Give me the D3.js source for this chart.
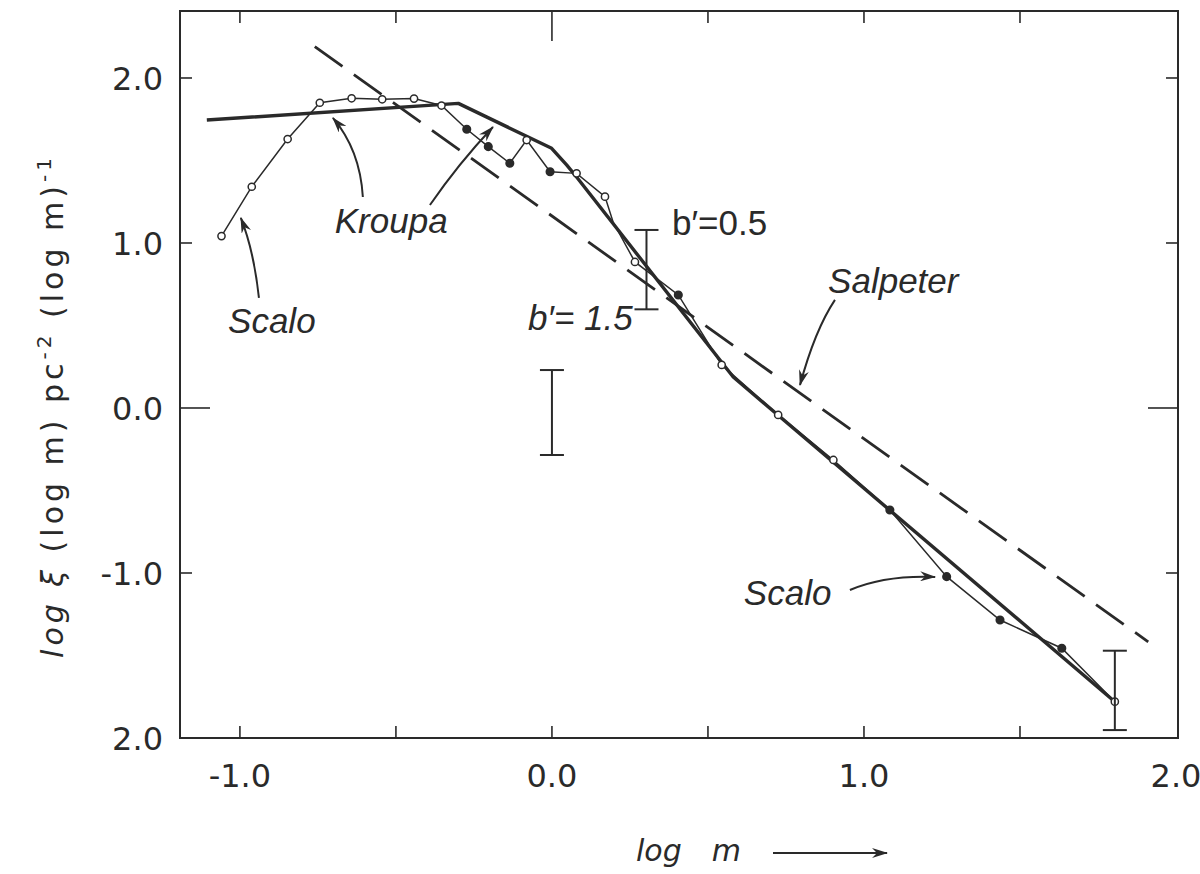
<!DOCTYPE html>
<html>
<head>
<meta charset="utf-8">
<script src="https://cdn.jsdelivr.net/npm/d3@7"></script>
<style>
  html, body { margin: 0; padding: 0; background: #ffffff; }
  svg { display: block; }
  .tick-label { font-family: "DejaVu Sans", sans-serif; font-size: 32px; fill: #2a2a2a; }
  .note { font-family: "Liberation Sans", "DejaVu Sans", sans-serif; font-style: italic; font-size: 35px; fill: #2a2a2a; }
  .note-up { font-family: "Liberation Sans", "DejaVu Sans", sans-serif; font-size: 35px; fill: #2a2a2a; }
  .axis-title { font-family: "DejaVu Sans", sans-serif; font-size: 30px; fill: #2a2a2a; }
</style>
</head>
<body>
<svg id="chart" width="1200" height="874"></svg>
<script>
// ---- Data: log of the mass function vs log m ----

// Kroupa broken power law (thick solid line)
const kroupaLogM  = [-1.106, -0.30, -0.001, 0.047, 0.079, 0.581, 1.804];
const kroupaLogXi = [ 1.745,  1.846, 1.574, 1.473, 1.400, 0.188, -1.780];

// Scalo estimate (thin line with open / filled points)
const scaloLogM  = [-1.059, -0.962, -0.847, -0.744, -0.642, -0.544, -0.442, -0.354,
                    -0.273, -0.204, -0.135, -0.081, -0.006, 0.079, 0.170, 0.196,
                     0.266, 0.405, 0.544, 0.725, 0.902, 1.083, 1.265, 1.436, 1.634, 1.804];
const scaloLogXi = [ 1.042, 1.341, 1.630, 1.850, 1.877, 1.871, 1.875, 1.833,
                     1.689, 1.584, 1.483, 1.624, 1.432, 1.422, 1.281, 1.127,
                     0.885, 0.685, 0.261, -0.042, -0.315, -0.618, -1.022, -1.285, -1.456, -1.780];
const scaloPoint = ["open", "open", "open", "open", "open", "open", "open", "open",
                    "filled", "filled", "filled", "open", "filled", "open", "open", "none",
                    "open", "filled", "open", "open", "open", "filled", "filled", "filled", "filled", "open"];

// Salpeter power law (dashed line), slope -1.35
const salpeterLogM  = [-0.76, 1.911];
const salpeterLogXi = [ 2.19, -1.417];

// Representative error bars
const errLogM = [0.0, 0.303, 1.804];
const errHigh = [0.23, 1.079, -1.471];
const errLow  = [-0.285, 0.598, -1.952];

// Axis ticks and their printed labels
const xMinorTicks = [-1.0, -0.5, 0.0, 0.5, 1.0, 1.5];
const xLabelValues = [-1.0, 0.0, 1.0, 2.0];
const xLabelTexts  = ["-1.0", "0.0", "1.0", "2.0"];
const yTickValues  = [2.0, 1.0, 0.0, -1.0];
const yLabelValues = [2.0, 1.0, 0.0, -1.0, -2.0];
const yLabelTexts  = ["2.0", "1.0", "0.0", "-1.0", "2.0"];

// ---- Layout ----
const svg = d3.select("#chart");
const ink = "#2a2a2a";

const x = d3.scaleLinear().domain([-1.192, 2.0]).range([180, 1176]);
const y = d3.scaleLinear().domain([-2.0, 2.406]).range([738, 11]);

const defs = svg.append("defs");
defs.append("marker")
  .attr("id", "head")
  .attr("viewBox", "0 0 16 10")
  .attr("refX", 15).attr("refY", 5)
  .attr("markerWidth", 16).attr("markerHeight", 10)
  .attr("markerUnits", "userSpaceOnUse")
  .attr("orient", "auto")
  .append("path")
  .attr("d", "M0,0 L16,5 L0,10 L5,5 Z")
  .attr("fill", ink);

// ---- Frame ----
const [x0, x1] = x.range();
const [y0, y1] = y.range();
svg.append("rect")
  .attr("x", x0).attr("y", y1)
  .attr("width", x1 - x0 + 2).attr("height", y0 - y1)
  .attr("fill", "none").attr("stroke", ink).attr("stroke-width", 2);

// Inward ticks on all four sides; the zero ticks are longer
const tickLen = v => (Math.abs(v) < 1e-9 ? 30 : 12);
const tickG = svg.append("g").attr("stroke", ink).attr("stroke-width", 1.6);
xMinorTicks.forEach(v => {
  tickG.append("line").attr("x1", x(v)).attr("x2", x(v)).attr("y1", y0).attr("y2", y0 - 12);
  tickG.append("line").attr("x1", x(v)).attr("x2", x(v)).attr("y1", y1).attr("y2", y1 + tickLen(v));
});
yTickValues.forEach(v => {
  tickG.append("line").attr("x1", x0).attr("x2", x0 + tickLen(v)).attr("y1", y(v)).attr("y2", y(v));
  tickG.append("line").attr("x1", x1 + 2).attr("x2", x1 + 2 - tickLen(v)).attr("y1", y(v)).attr("y2", y(v));
});

// Tick labels
xLabelValues.forEach((v, i) => {
  svg.append("text").attr("class", "tick-label")
    .attr("x", x(v)).attr("y", 787)
    .attr("text-anchor", "middle")
    .text(xLabelTexts[i]);
});
yLabelValues.forEach((v, i) => {
  svg.append("text").attr("class", "tick-label")
    .attr("x", 163).attr("y", y(v) + 12)
    .attr("text-anchor", "end")
    .text(yLabelTexts[i]);
});

// Axis titles
const xt = svg.append("text").attr("class", "axis-title")
  .attr("x", 636).attr("y", 861).style("font-style", "italic");
xt.append("tspan").text("log");
xt.append("tspan").attr("dx", 30).text("m");
svg.append("line")
  .attr("x1", 773).attr("x2", 887).attr("y1", 853).attr("y2", 853)
  .attr("stroke", ink).attr("stroke-width", 2)
  .attr("marker-end", "url(#head)");

const yt = svg.append("text").attr("class", "axis-title")
  .attr("transform", "translate(63,406) rotate(-90)")
  .attr("text-anchor", "middle")
  .style("letter-spacing", "4px");
yt.append("tspan").style("font-style", "italic").text("log ξ");
yt.append("tspan").text(" (log m)  pc");
yt.append("tspan").attr("dy", -12).style("font-size", "20px").text("-2");
yt.append("tspan").attr("dy", 12).text(" (log m)");
yt.append("tspan").attr("dy", -12).style("font-size", "20px").text("-1");

// ---- Curves ----
const line = d3.line().x(d => x(d[0])).y(d => y(d[1]));

svg.append("path")
  .datum(salpeterLogM.map((m, i) => [m, salpeterLogXi[i]]))
  .attr("d", line)
  .attr("fill", "none").attr("stroke", ink)
  .attr("stroke-width", 2.8).attr("stroke-dasharray", "34,14");

svg.append("path")
  .datum(kroupaLogM.map((m, i) => [m, kroupaLogXi[i]]))
  .attr("d", line)
  .attr("fill", "none").attr("stroke", ink)
  .attr("stroke-width", 3.4).attr("stroke-linejoin", "round");

const scalo = scaloLogM.map((m, i) => ({ m, xi: scaloLogXi[i], kind: scaloPoint[i] }));
svg.append("path")
  .datum(scalo.map(d => [d.m, d.xi]))
  .attr("d", line)
  .attr("fill", "none").attr("stroke", ink).attr("stroke-width", 1.5);

svg.append("g").selectAll("circle")
  .data(scalo.filter(d => d.kind !== "none"))
  .join("circle")
  .attr("cx", d => x(d.m)).attr("cy", d => y(d.xi))
  .attr("r", d => d.kind === "open" ? 3.6 : 3.8)
  .attr("fill", d => d.kind === "open" ? "#ffffff" : ink)
  .attr("stroke", ink).attr("stroke-width", 1.5);

// ---- Error bars ----
const eg = svg.append("g").attr("stroke", ink).attr("stroke-width", 2);
errLogM.forEach((m, i) => {
  const cx = x(m);
  eg.append("line").attr("x1", cx).attr("x2", cx).attr("y1", y(errHigh[i])).attr("y2", y(errLow[i]));
  [errHigh[i], errLow[i]].forEach(v => {
    eg.append("line").attr("x1", cx - 12).attr("x2", cx + 12).attr("y1", y(v)).attr("y2", y(v));
  });
});

// ---- Annotations (positions in data units) ----
const labels = [
  { text: "Scalo",    m: -1.038, xi: 0.455,  cls: "note" },
  { text: "Kroupa",   m: -0.696, xi: 1.061,  cls: "note" },
  { text: "b′=0.5",   m: 0.385,  xi: 1.048,  cls: "note-up" },
  { text: "b′= 1.5",  m: -0.077, xi: 0.473,  cls: "note" },
  { text: "Salpeter", m: 0.885,  xi: 0.697,  cls: "note" },
  { text: "Scalo",    m: 0.615,  xi: -1.194, cls: "note" }
];
labels.forEach(d => {
  svg.append("text").attr("class", d.cls)
    .attr("x", x(d.m)).attr("y", y(d.xi))
    .text(d.text);
});

// Curved pointers: start, control, tip
const pointers = [
  [[-0.939, 0.667], [-0.955, 0.95], [-0.997, 1.152]],
  [[-0.606, 1.279], [-0.615, 1.564], [-0.702, 1.758]],
  [[-0.391, 1.230], [-0.300, 1.480], [-0.189, 1.703]],
  [[0.907, 0.655],  [0.843, 0.473],  [0.795, 0.139]],
  [[0.955, -1.103], [1.067, -1.012], [1.228, -1.024]]
];
pointers.forEach(p => {
  const [s, c, t] = p;
  svg.append("path")
    .attr("d", `M${x(s[0])},${y(s[1])} Q${x(c[0])},${y(c[1])} ${x(t[0])},${y(t[1])}`)
    .attr("fill", "none").attr("stroke", ink).attr("stroke-width", 2)
    .attr("marker-end", "url(#head)");
});
</script>
</body>
</html>
